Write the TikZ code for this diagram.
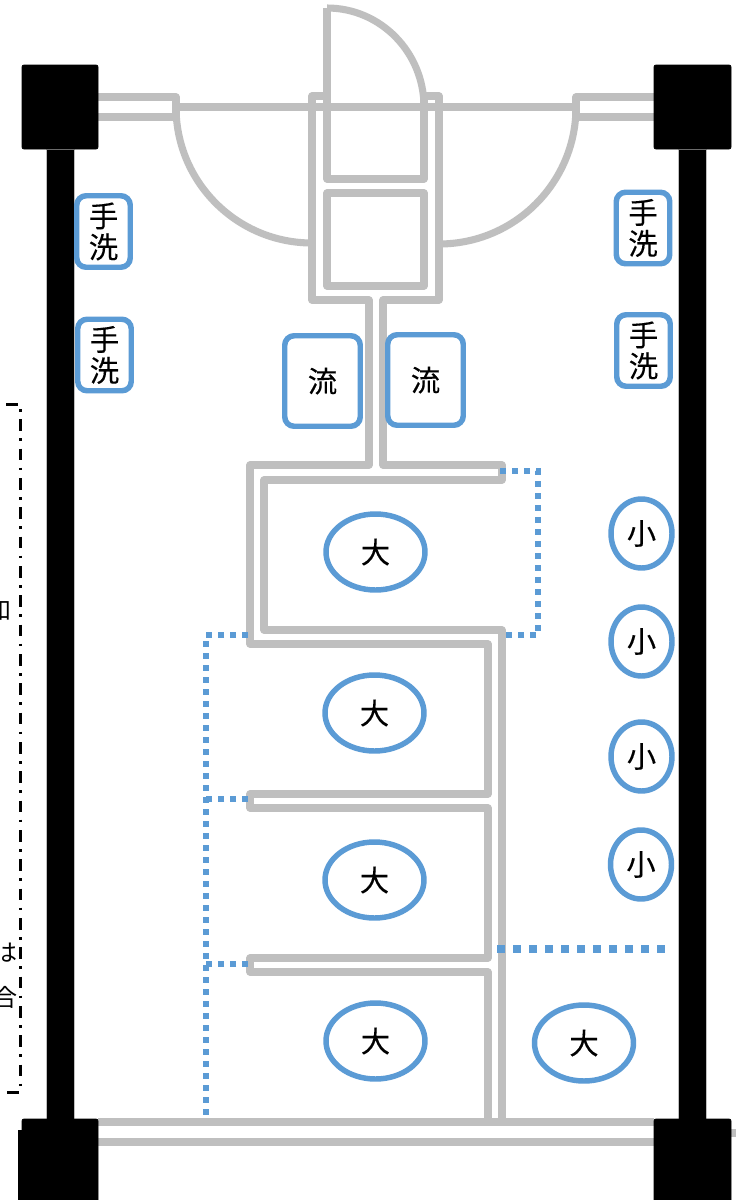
\documentclass[tikz,border=0pt]{standalone}
\usepackage{fontspec}
\usetikzlibrary{shapes.geometric}
\newfontfamily\cjk[FakeBold=0.25]{Noto Sans CJK JP}
\newfontfamily\cjkplain{Noto Sans CJK JP}
\newcommand{\liftx}[1]{\raisebox{1pt}{#1}}
\definecolor{wallgray}{HTML}{BFBFBF}
\definecolor{fixblue}{HTML}{5B9BD5}
\tikzset{
  wall/.style={draw=wallgray,line width=5.3pt,line join=round,line cap=butt},
  pillar/.style={fill=black,draw=black,line width=0.6pt,rounded corners=1.5pt},
  column/.style={fill=black,draw=wallgray,line width=0.5pt},
  sz/.style 2 args={minimum width=#1*0.75pt,minimum height=#2*0.75pt},
  fixture/.style={draw=fixblue,line width=4.1pt,inner sep=0pt,align=center,text=black,
    font=\cjk\fontsize{22}{23.25}\selectfont},
  sink/.style={fixture,rectangle,rounded corners=7pt},
  bowl/.style={fixture,ellipse},
  partA/.style={draw=fixblue,line width=4.1pt,dash pattern=on 4.4pt off 4.6pt},
  partB/.style={draw=fixblue,line width=6pt,dash pattern=on 6pt off 6pt},
  frameline/.style={draw=black,line width=2pt,dash pattern=on 8.8pt off 5.5pt on 2pt off 5.7pt},
  cuttext/.style={anchor=east,inner sep=0pt,font=\cjkplain\fontsize{18}{18}\selectfont,text=black},
}
\begin{document}
\begin{tikzpicture}[x=0.75pt,y=-0.75pt]
\useasboundingbox (0,0) rectangle (736,1200);
\fill[white] (0,0) rectangle (736,1200);

% clipped note at the left edge
\begin{scope}
\clip (0,0) rectangle (736,1200);
\node[cuttext] (noteA) at (12,610) {和};
\node[cuttext] (noteB) at (18,953) {は};
\node[cuttext] (noteC) at (18,997) {合};
\draw[frameline] (6,404.5) -- (20.5,404.5) -- (20.5,1092.5) -- (-2,1092.5);
\end{scope}

% gray walls
\draw[wall] (98,97) -- (176,97) -- (176,117) -- (98,117);
\draw[wall] (654,97) -- (576,97) -- (576,117) -- (654,117);
\draw[wall] (176,107) -- (576,107);
\draw[wall] (176,107) arc[start angle=180,end angle=270,x radius=136,y radius=-136];
\draw[wall] (576,107) arc[start angle=0,end angle=-90,x radius=137,y radius=-137];
% door
\draw[wall] (424,107) arc[start angle=0,end angle=90,x radius=97,y radius=-99];
\draw[wall] (327,8) -- (327,179) -- (424,179) -- (424,96) -- (439,96) -- (439,300) -- (383,300)
  -- (383,465) -- (502,465) -- (502,480) -- (264,480) -- (264,630) -- (502,630) -- (502,1119);
\draw[wall] (327,96) -- (312,96) -- (312,300) -- (369,300) -- (369,465) -- (250,465) -- (250,644)
  -- (488,644) -- (488,794) -- (250,794) -- (250,808) -- (488,808) -- (488,958) -- (250,958)
  -- (250,972) -- (488,972) -- (488,1119);
\draw[wall] (327,193) rectangle (424,286);
\draw[wall] (98,1122) -- (654,1122);
\draw[wall] (98,1142) -- (654,1142);
\draw[wall] (731,1133) -- (736,1133);

% columns and pillars
\draw[column] (46,149) rectangle (74,1119);
\draw[column] (678,149) rectangle (706,1119);
\draw[pillar] (22,65) rectangle (98,149);
\draw[pillar] (654,65) rectangle (731,149);
\fill[black] (18,1130) rectangle (98,1200);
\draw[pillar] (22,1119) rectangle (98,1205);
\draw[pillar] (654,1119) rectangle (731,1205);

% dotted partitions
\draw[partA] (500,471) -- (538,471) -- (538,635) -- (505,635);
\draw[partA] (248,635) -- (206,635) -- (206,1115);
\draw[partA] (248,799) -- (206,799);
\draw[partA] (248,964) -- (206,964);
\draw[partB] (497,949) -- (666,949);

% fixtures
\node[sink,sz={53.5}{71.5}] (w1) at (103.5,231.5) {\liftx{手}\\\liftx{洗}};
\node[sink,sz={53.5}{71.5}] (w2) at (104.5,355) {\liftx{手}\\\liftx{洗}};
\node[sink,sz={53.5}{71.5}] (w3) at (643,228) {\liftx{手}\\\liftx{洗}};
\node[sink,sz={53.5}{71.5}] (w4) at (643.5,350.5) {\liftx{手}\\\liftx{洗}};
\node[sink,sz={75.5}{90.5}] (s1) at (322.5,381) {\liftx{流}};
\node[sink,sz={75.5}{90.5}] (s2) at (425.5,380) {\liftx{流}};
\node[bowl,sz={99}{76}] (b1) at (375.5,552) {\liftx{大}};
\node[bowl,sz={99}{76}] (b2) at (374.5,713) {\liftx{大}};
\node[bowl,sz={99}{76}] (b3) at (374.5,880) {\liftx{大}};
\node[bowl,sz={99}{76}] (b4) at (375.5,1041) {\liftx{大}};
\node[bowl,sz={99}{76}] (b5) at (584,1043) {\liftx{大}};
\node[bowl,sz={61}{69}] (u1) at (641.5,533.5) {\liftx{小}};
\node[bowl,sz={61}{69}] (u2) at (641.5,641.5) {\liftx{小}};
\node[bowl,sz={61}{69}] (u3) at (641.5,756.5) {\liftx{小}};
\node[bowl,sz={61}{69}] (u4) at (641,864.5) {\liftx{小}};
\end{tikzpicture}
\end{document}
